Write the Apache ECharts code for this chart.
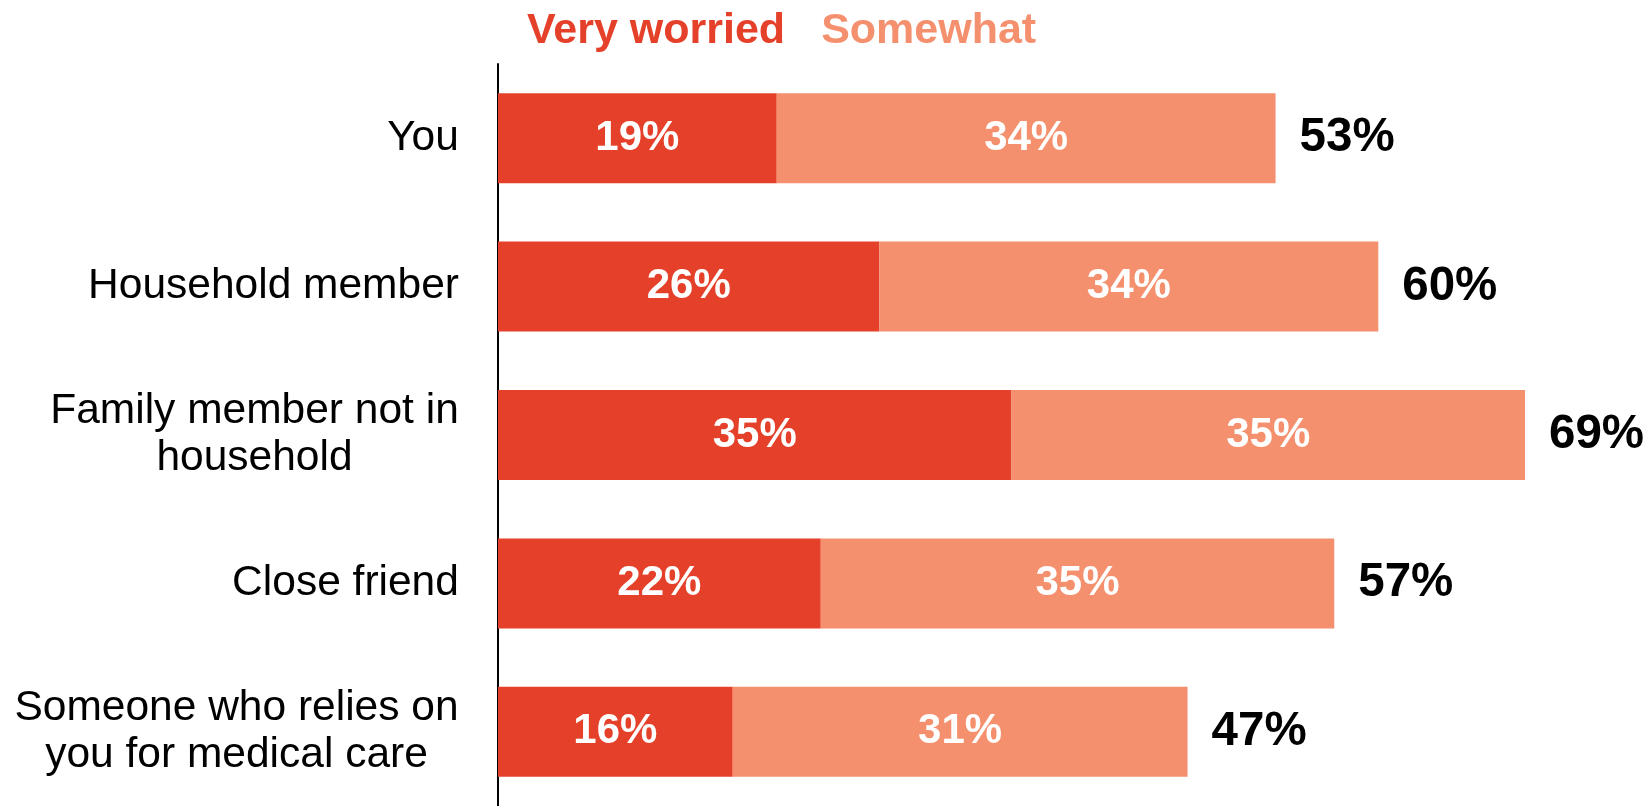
<!DOCTYPE html>
<html>
<head>
<meta charset="utf-8">
<script src="https://cdn.jsdelivr.net/npm/echarts@6/dist/echarts.min.js"></script>
<style>
  html, body { margin: 0; padding: 0; background: #fff; }
  #chart { width: 1645px; height: 806px; }
</style>
</head>
<body>
<div id="chart"></div>
<script>
const categories = [
  'You',
  'Household member',
  'Family member not in\nhousehold',
  'Close friend',
  'Someone who relies on\nyou for medical care'
];
const veryWorried = [19, 26, 35, 22, 16];
const somewhat = [34, 34, 35, 35, 31];
const totals = [53, 60, 69, 57, 47];

const RED = '#E5402A';
const SALMON = '#F5906E';
const FONT = 'Liberation Sans, Arial, sans-serif';
const CAT_SIZE = 42.5;

// multi-line category labels are centred line by line, block anchored to the axis
const ctx = document.createElement('canvas').getContext('2d');
ctx.font = CAT_SIZE + 'px ' + FONT;
const rich = {};
categories.forEach((c, i) => {
  const w = Math.max(...c.split('\n').map(s => ctx.measureText(s).width));
  rich['c' + i] = {
    width: Math.ceil(w) + 2,
    align: 'center',
    color: '#000',
    fontFamily: FONT,
    fontSize: CAT_SIZE,
    lineHeight: 47
  };
});

const myChart = echarts.init(document.getElementById('chart'));

const innerLabel = {
  show: true,
  position: 'inside',
  color: '#fff',
  fontFamily: FONT,
  fontWeight: 'bold',
  fontSize: 42,
  formatter: p => p.value + '%'
};

const option = {
  animation: false,
  legend: {
    left: 517,
    top: 5,
    icon: 'none',
    itemWidth: 0,
    itemGap: 31,
    selectedMode: false,
    data: [
      { name: 'Very worried', textStyle: { color: RED } },
      { name: 'Somewhat', textStyle: { color: SALMON } }
    ],
    textStyle: { fontFamily: FONT, fontWeight: 'bold', fontSize: 43 }
  },
  grid: { left: 498, top: 64, width: 1027, bottom: 0 },
  xAxis: { type: 'value', min: 0, max: 70, show: false },
  yAxis: {
    type: 'category',
    inverse: true,
    data: categories,
    axisLine: { show: true, lineStyle: { color: '#000', width: 2 } },
    axisTick: { show: false },
    axisLabel: {
      color: '#000',
      fontFamily: FONT,
      fontSize: CAT_SIZE,
      lineHeight: 47,
      margin: 38,
      align: 'right',
      rich: rich,
      formatter: (v, i) => v.split('\n').map(s => '{c' + i + '|' + s + '}').join('\n')
    }
  },
  series: [
    {
      name: 'Very worried',
      type: 'bar',
      stack: 'w',
      barWidth: 90,
      data: veryWorried,
      itemStyle: { color: RED },
      label: innerLabel
    },
    {
      name: 'Somewhat',
      type: 'bar',
      stack: 'w',
      barWidth: 90,
      data: somewhat,
      itemStyle: { color: SALMON },
      label: innerLabel
    },
    {
      name: 'Total',
      type: 'bar',
      stack: 'w',
      barWidth: 90,
      data: totals.map(() => 0),
      itemStyle: { color: 'transparent' },
      label: {
        show: true,
        position: 'right',
        distance: 24,
        color: '#000',
        fontFamily: FONT,
        fontWeight: 'bold',
        fontSize: 47.5,
        formatter: p => totals[p.dataIndex] + '%'
      }
    }
  ]
};

option && myChart.setOption(option);
</script>
</body>
</html>
